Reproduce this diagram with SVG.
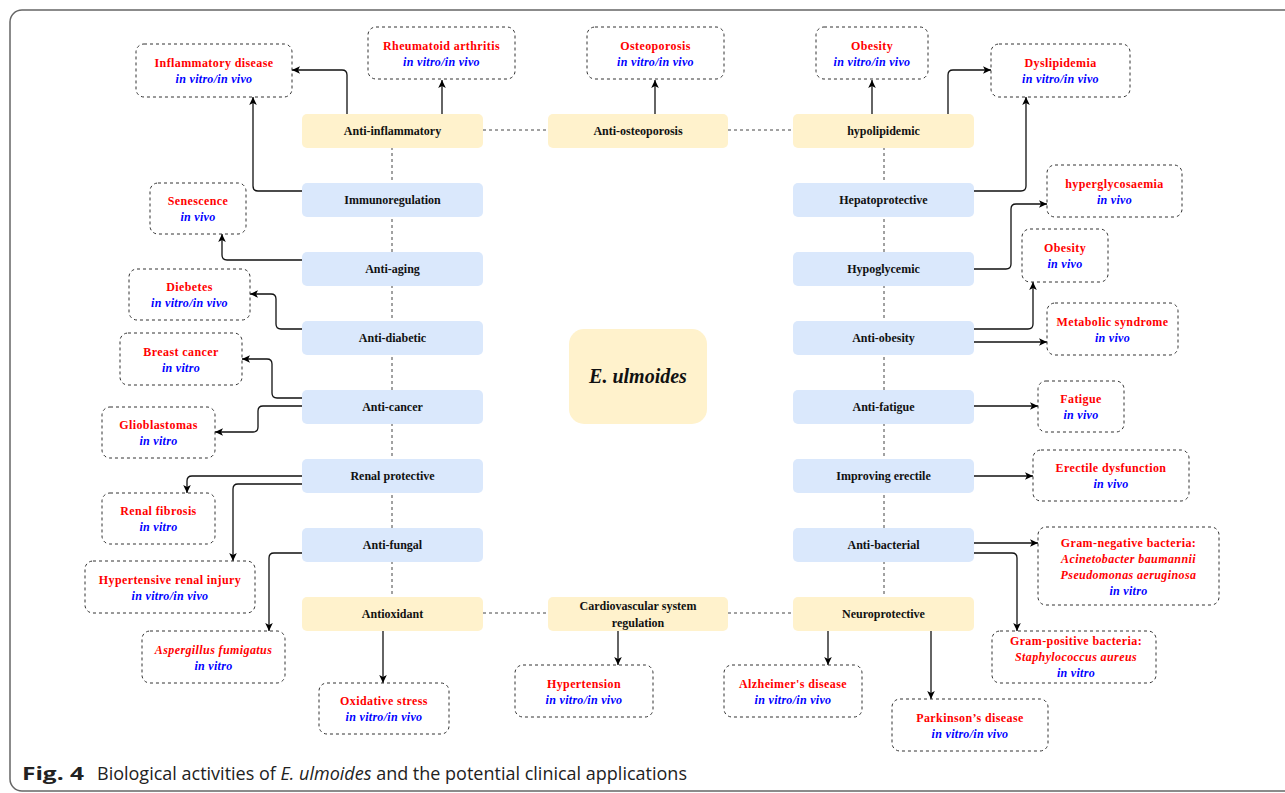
<svg xmlns="http://www.w3.org/2000/svg" width="1285" height="793" viewBox="0 0 1285 793">
<defs>
<marker id="arr" markerWidth="10" markerHeight="10" refX="9" refY="5" orient="auto" markerUnits="userSpaceOnUse">
<path d="M1,1.2 L9,5 L1,8.8 L3,5 z" fill="#000"/>
</marker>
<style>
.y{fill:#fff2cc}
.b{fill:#dae8fc}
.o{fill:#fff;stroke:#333;stroke-width:1;stroke-dasharray:3 3}
.t{font-family:"Liberation Serif",serif;font-weight:bold;font-size:12px;fill:#111;text-anchor:middle}
.r{font-family:"Liberation Serif",serif;font-weight:bold;font-size:12px;fill:#ff0000;text-anchor:middle;letter-spacing:0.4px}
.v{font-family:"Liberation Serif",serif;font-weight:bold;font-style:italic;font-size:12px;fill:#0000ff;text-anchor:middle;letter-spacing:0.3px}
.ri{font-style:italic}
.c{fill:none;stroke:#111;stroke-width:1.3;marker-end:url(#arr)}
.d{fill:none;stroke:#444;stroke-width:1;stroke-dasharray:3 3}
</style>
</defs>
<rect width="1285" height="793" fill="#fff"/>
<rect x="10" y="10" width="1300" height="781" rx="12" fill="none" stroke="#666" stroke-width="1.5"/>

<g id="dashlinks">
<path class="d" d="M483,130 H548 M728,130 H793 M483,613 H548 M728,613 H793 M392,147 V597 M884,147 V597"/>
</g>

<g id="connectors">
<path class="c" d="M347,114 V75 Q347,70 342,70 H292"/>
<path class="c" d="M442,114 V80"/>
<path class="c" d="M302,191 H258 Q253,191 253,186 V97"/>
<path class="c" d="M655,114 V80"/>
<path class="c" d="M872,114 V80"/>
<path class="c" d="M948,114 V75 Q948,70 953,70 H991"/>
<path class="c" d="M974,191 H1021 Q1026,191 1026,186 V97"/>
<path class="c" d="M974,269 H1006 Q1011,269 1011,264 V209 Q1011,204 1016,204 H1047"/>
<path class="c" d="M974,329 H1028 Q1033,329 1033,324 V282"/>
<path class="c" d="M974,342 H1047"/>
<path class="c" d="M974,406 H1038"/>
<path class="c" d="M974,476 H1033"/>
<path class="c" d="M974,543 H1038"/>
<path class="c" d="M974,553 H1012 Q1017,553 1017,558 V631"/>
<path class="c" d="M931,631 V699"/>
<path class="c" d="M828,631 V665"/>
<path class="c" d="M618,631 V665"/>
<path class="c" d="M383,631 V683"/>
<path class="c" d="M302,553 H274 Q269,553 269,558 V631"/>
<path class="c" d="M302,476 H192 Q187,476 187,481 V493"/>
<path class="c" d="M302,484 H238 Q233,484 233,489 V561"/>
<path class="c" d="M302,406 H263 Q258,406 258,411 V427 Q258,432 253,432 H215"/>
<path class="c" d="M302,398 H277 Q272,398 272,393 V364 Q272,359 267,359 H242"/>
<path class="c" d="M302,329 H281 Q276,329 276,324 V299 Q276,294 271,294 H250"/>
<path class="c" d="M302,260 H227 Q222,260 222,255 V234"/>
</g>

<!-- activity nodes left -->
<g id="n-antiinflammatory"><rect class="y" x="302" y="114" width="181" height="34" rx="5"/><text class="t" x="392.5" y="135">Anti-inflammatory</text></g>
<g id="n-immunoregulation"><rect class="b" x="302" y="183" width="181" height="34" rx="5"/><text class="t" x="392.5" y="204">Immunoregulation</text></g>
<g id="n-antiaging"><rect class="b" x="302" y="252" width="181" height="34" rx="5"/><text class="t" x="392.5" y="273">Anti-aging</text></g>
<g id="n-antidiabetic"><rect class="b" x="302" y="321" width="181" height="34" rx="5"/><text class="t" x="392.5" y="342">Anti-diabetic</text></g>
<g id="n-anticancer"><rect class="b" x="302" y="390" width="181" height="34" rx="5"/><text class="t" x="392.5" y="411">Anti-cancer</text></g>
<g id="n-renal"><rect class="b" x="302" y="459" width="181" height="34" rx="5"/><text class="t" x="392.5" y="480">Renal protective</text></g>
<g id="n-antifungal"><rect class="b" x="302" y="528" width="181" height="34" rx="5"/><text class="t" x="392.5" y="549">Anti-fungal</text></g>
<g id="n-antioxidant"><rect class="y" x="302" y="597" width="181" height="34" rx="5"/><text class="t" x="392.5" y="618">Antioxidant</text></g>

<!-- middle -->
<g id="n-antiosteoporosis"><rect class="y" x="548" y="114" width="180" height="34" rx="5"/><text class="t" x="638" y="135">Anti-osteoporosis</text></g>
<g id="n-cardio"><rect class="y" x="548" y="597" width="180" height="34" rx="5"/><text class="t" x="638" y="610">Cardiovascular system</text><text class="t" x="638" y="627">regulation</text></g>
<g id="n-center"><rect class="y" x="569" y="329" width="138" height="95" rx="15"/><text x="638" y="383" font-family="Liberation Serif, serif" font-weight="bold" font-style="italic" font-size="20" fill="#111" text-anchor="middle">E. ulmoides</text></g>

<!-- activity nodes right -->
<g id="n-hypolipidemic"><rect class="y" x="793" y="114" width="181" height="34" rx="5"/><text class="t" x="883.5" y="135">hypolipidemic</text></g>
<g id="n-hepatoprotective"><rect class="b" x="793" y="183" width="181" height="34" rx="5"/><text class="t" x="883.5" y="204">Hepatoprotective</text></g>
<g id="n-hypoglycemic"><rect class="b" x="793" y="252" width="181" height="34" rx="5"/><text class="t" x="883.5" y="273">Hypoglycemic</text></g>
<g id="n-antiobesity"><rect class="b" x="793" y="321" width="181" height="34" rx="5"/><text class="t" x="883.5" y="342">Anti-obesity</text></g>
<g id="n-antifatigue"><rect class="b" x="793" y="390" width="181" height="34" rx="5"/><text class="t" x="883.5" y="411">Anti-fatigue</text></g>
<g id="n-erectile"><rect class="b" x="793" y="459" width="181" height="34" rx="5"/><text class="t" x="883.5" y="480">Improving erectile</text></g>
<g id="n-antibacterial"><rect class="b" x="793" y="528" width="181" height="34" rx="5"/><text class="t" x="883.5" y="549">Anti-bacterial</text></g>
<g id="n-neuroprotective"><rect class="y" x="793" y="597" width="181" height="34" rx="5"/><text class="t" x="883.5" y="618">Neuroprotective</text></g>

<!-- outcome nodes -->
<g id="o-inflammatory"><rect class="o" x="136" y="44" width="156" height="53" rx="8"/><text class="r" x="214" y="67">Inflammatory disease</text><text class="v" x="214" y="83">in vitro/in vivo</text></g>
<g id="o-rheumatoid"><rect class="o" x="368" y="27" width="147" height="52" rx="8"/><text class="r" x="441.5" y="50">Rheumatoid arthritis</text><text class="v" x="441.5" y="66">in vitro/in vivo</text></g>
<g id="o-osteoporosis"><rect class="o" x="587" y="27" width="137" height="52" rx="8"/><text class="r" x="655.5" y="50">Osteoporosis</text><text class="v" x="655.5" y="66">in vitro/in vivo</text></g>
<g id="o-obesity1"><rect class="o" x="816" y="27" width="112" height="52" rx="8"/><text class="r" x="872" y="50">Obesity</text><text class="v" x="872" y="66">in vitro/in vivo</text></g>
<g id="o-dyslipidemia"><rect class="o" x="991" y="44" width="139" height="53" rx="8"/><text class="r" x="1060.5" y="67">Dyslipidemia</text><text class="v" x="1060.5" y="83">in vitro/in vivo</text></g>
<g id="o-senescence"><rect class="o" x="150" y="183" width="96" height="51" rx="8"/><text class="r" x="198" y="205">Senescence</text><text class="v" x="198" y="221">in vivo</text></g>
<g id="o-hyperglycosaemia"><rect class="o" x="1047" y="165" width="135" height="52" rx="8"/><text class="r" x="1114.5" y="188">hyperglycosaemia</text><text class="v" x="1114.5" y="204">in vivo</text></g>
<g id="o-obesity2"><rect class="o" x="1022" y="229" width="86" height="53" rx="8"/><text class="r" x="1065" y="252">Obesity</text><text class="v" x="1065" y="268">in vivo</text></g>
<g id="o-metabolic"><rect class="o" x="1047" y="303" width="131" height="52" rx="8"/><text class="r" x="1112.5" y="326">Metabolic syndrome</text><text class="v" x="1112.5" y="342">in vivo</text></g>
<g id="o-fatigue"><rect class="o" x="1038" y="381" width="86" height="51" rx="8"/><text class="r" x="1081" y="403">Fatigue</text><text class="v" x="1081" y="419">in vivo</text></g>
<g id="o-erectile"><rect class="o" x="1033" y="450" width="156" height="51" rx="8"/><text class="r" x="1111" y="472">Erectile dysfunction</text><text class="v" x="1111" y="488">in vivo</text></g>
<g id="o-gramneg"><rect class="o" x="1038" y="527" width="181" height="78" rx="8"/><text class="r" x="1128.5" y="547">Gram-negative bacteria:</text><text class="r ri" x="1128.5" y="563">Acinetobacter baumannii</text><text class="r ri" x="1128.5" y="579">Pseudomonas aeruginosa</text><text class="v" x="1128.5" y="595">in vitro</text></g>
<g id="o-grampos"><rect class="o" x="992" y="631" width="164" height="52" rx="8"/><text class="r" x="1076" y="645">Gram-positive bacteria:</text><text class="r ri" x="1076" y="661">Staphylococcus aureus</text><text class="v" x="1076" y="677">in vitro</text></g>
<g id="o-parkinson"><rect class="o" x="892" y="699" width="156" height="52" rx="8"/><text class="r" x="970" y="722">Parkinson’s disease</text><text class="v" x="970" y="738">in vitro/in vivo</text></g>
<g id="o-alzheimer"><rect class="o" x="724" y="665" width="138" height="52" rx="8"/><text class="r" x="793" y="688">Alzheimer's disease</text><text class="v" x="793" y="704">in vitro/in vivo</text></g>
<g id="o-hypertension"><rect class="o" x="515" y="665" width="138" height="52" rx="8"/><text class="r" x="584" y="688">Hypertension</text><text class="v" x="584" y="704">in vitro/in vivo</text></g>
<g id="o-oxidative"><rect class="o" x="319" y="683" width="130" height="51" rx="8"/><text class="r" x="384" y="705">Oxidative stress</text><text class="v" x="384" y="721">in vitro/in vivo</text></g>
<g id="o-aspergillus"><rect class="o" x="142" y="631" width="143" height="52" rx="8"/><text class="r ri" x="213.5" y="654">Aspergillus fumigatus</text><text class="v" x="213.5" y="670">in vitro</text></g>
<g id="o-hypertensive"><rect class="o" x="85" y="561" width="170" height="52" rx="8"/><text class="r" x="170" y="584">Hypertensive renal injury</text><text class="v" x="170" y="600">in vitro/in vivo</text></g>
<g id="o-renalfibrosis"><rect class="o" x="102" y="493" width="113" height="51" rx="8"/><text class="r" x="158.5" y="515">Renal fibrosis</text><text class="v" x="158.5" y="531">in vitro</text></g>
<g id="o-glioblastomas"><rect class="o" x="102" y="407" width="113" height="51" rx="8"/><text class="r" x="158.5" y="429">Glioblastomas</text><text class="v" x="158.5" y="445">in vitro</text></g>
<g id="o-breast"><rect class="o" x="120" y="333" width="122" height="52" rx="8"/><text class="r" x="181" y="356">Breast cancer</text><text class="v" x="181" y="372">in vitro</text></g>
<g id="o-diebetes"><rect class="o" x="129" y="269" width="121" height="51" rx="8"/><text class="r" x="189.5" y="291">Diebetes</text><text class="v" x="189.5" y="307">in vitro/in vivo</text></g>

<g id="caption">
<text x="22" y="780" font-family="Open Sans, sans-serif" font-size="18" fill="#222"><tspan font-weight="bold" textLength="62" lengthAdjust="spacingAndGlyphs">Fig. 4</tspan></text>
<text x="97" y="780" font-family="Open Sans, sans-serif" font-size="18" fill="#222" textLength="590" lengthAdjust="spacingAndGlyphs">Biological activities of <tspan font-style="italic">E. ulmoides</tspan> and the potential clinical applications</text>
</g>
</svg>
